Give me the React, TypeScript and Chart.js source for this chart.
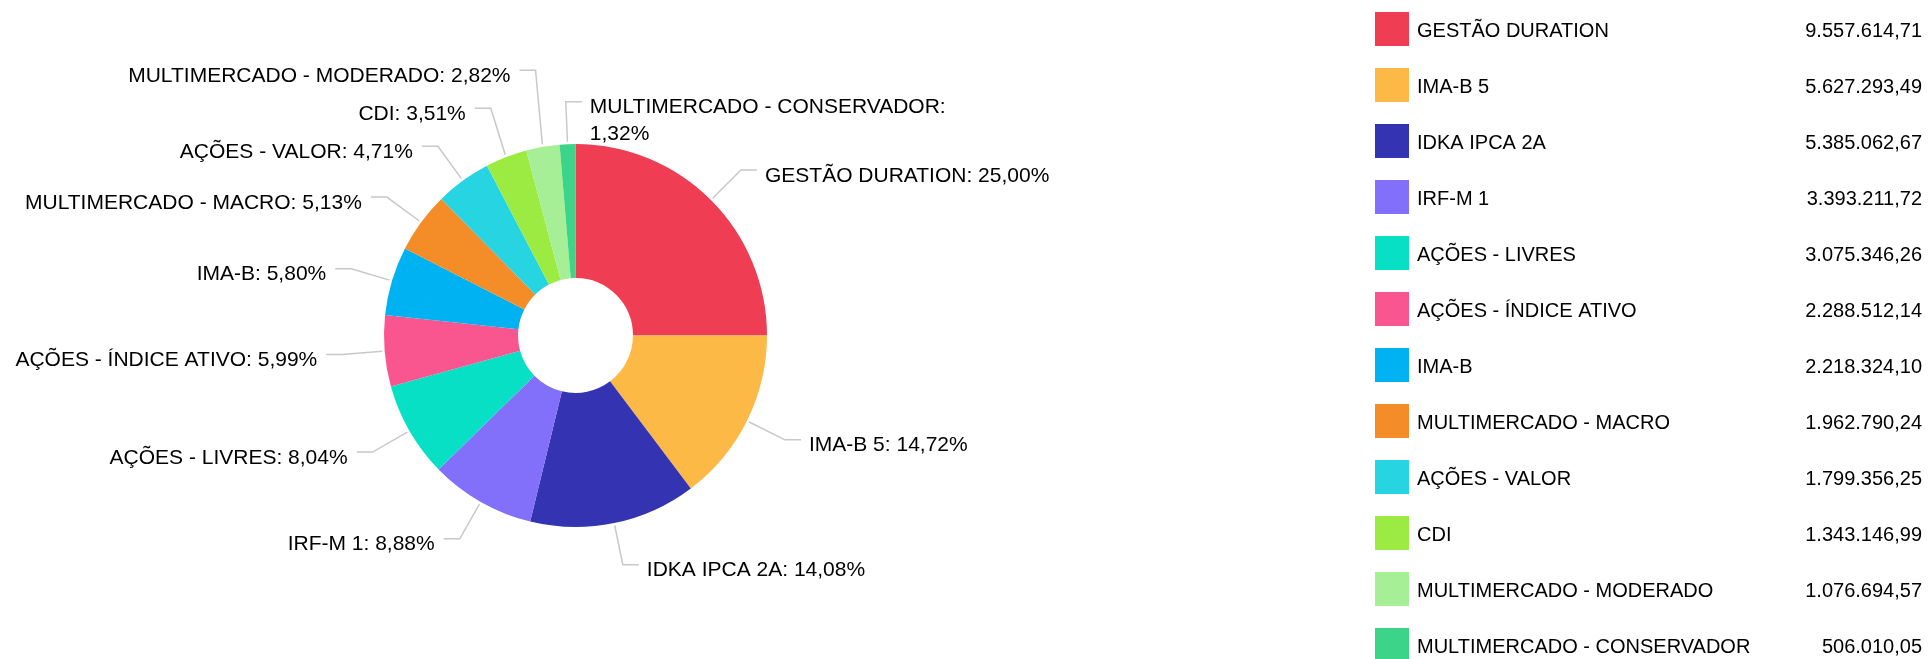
import React, { useEffect, useRef } from "react";
import { Chart, registerables } from "chart.js";

Chart.register(...registerables);

const categories: string[] = [
  "GESTÃO DURATION",
  "IMA-B 5",
  "IDKA IPCA 2A",
  "IRF-M 1",
  "AÇÕES - LIVRES",
  "AÇÕES - ÍNDICE ATIVO",
  "IMA-B",
  "MULTIMERCADO - MACRO",
  "AÇÕES - VALOR",
  "CDI",
  "MULTIMERCADO - MODERADO",
  "MULTIMERCADO - CONSERVADOR",
];

const values: number[] = [
  9557614.71, 5627293.49, 5385062.67, 3393211.72, 3075346.26, 2288512.14,
  2218324.1, 1962790.24, 1799356.25, 1343146.99, 1076694.57, 506010.05,
];

const colors: string[] = [
  "#EF3E54",
  "#FDB945",
  "#3434B3",
  "#826FFA",
  "#08E0C6",
  "#F9568F",
  "#00B2F2",
  "#F48C27",
  "#26D4E2",
  "#9CEB42",
  "#A6EF96",
  "#3BD489",
];

const FONT = '"Liberation Sans", Arial, sans-serif';
const LABEL_SIZE = 21;
const LEGEND_SIZE = 20;

function fmtBR(v: number, d = 2): string {
  const fixed = v.toFixed(d);
  const [intPart, dec] = fixed.split(".");
  const withDots = intPart.replace(/\B(?=(\d{3})+(?!\d))/g, ".");
  return dec ? withDots + "," + dec : withDots;
}

function wrap(ctx: CanvasRenderingContext2D, text: string, maxW: number): string[] {
  const words = text.split(" ");
  const lines: string[] = [];
  let cur = "";
  for (const w of words) {
    const test = cur ? cur + " " + w : w;
    if (cur && ctx.measureText(test).width > maxW) {
      lines.push(cur);
      cur = w;
    } else {
      cur = test;
    }
  }
  if (cur) lines.push(cur);
  return lines;
}

const labelPlugin = {
  id: "pieLabels",
  afterDatasetsDraw(chart: any) {
    const ctx: CanvasRenderingContext2D = chart.ctx;
    const meta = chart.getDatasetMeta(0);
    const data = chart.data.datasets[0].data as number[];
    const total = data.reduce((a, b) => a + b, 0);
    ctx.save();
    ctx.font = `${LABEL_SIZE}px ${FONT}`;
    const items = meta.data.map((arc: any, i: number) => {
      const p = arc.getProps(["x", "y", "startAngle", "endAngle", "outerRadius"], true);
      const mid = (p.startAngle + p.endAngle) / 2;
      const c = Math.cos(mid);
      const s = Math.sin(mid);
      const right = c > -0.05;
      const r1 = p.outerRadius + 2.5;
      const r2 = p.outerRadius + 42.5;
      const text = `${chart.data.labels[i]}: ${fmtBR((data[i] / total) * 100)}%`;
      const lines = wrap(ctx, text, 400);
      return {
        right,
        sx: p.x + c * r1,
        sy: p.y + s * r1,
        ex: p.x + c * r2,
        ey: p.y + s * r2,
        lines,
      };
    });
    const GAP = 38;
    const lefts = items.filter((o: any) => !o.right).sort((a: any, b: any) => b.ey - a.ey);
    for (let k = 1; k < lefts.length; k++) {
      lefts[k].ey = Math.min(lefts[k].ey, lefts[k - 1].ey - GAP);
    }
    const rights = items.filter((o: any) => o.right).sort((a: any, b: any) => a.ey - b.ey);
    for (let k = 1; k < rights.length; k++) {
      const prev = rights[k - 1];
      rights[k].ey = Math.max(rights[k].ey, prev.ey + GAP + (prev.lines.length - 1) * 27);
    }
    ctx.strokeStyle = "#c8c8c8";
    ctx.lineWidth = 1.5;
    ctx.fillStyle = "#000";
    ctx.textBaseline = "alphabetic";
    for (const o of items) {
      const hx = o.right ? o.ex + 16 : o.ex - 16;
      ctx.beginPath();
      ctx.moveTo(o.sx, o.sy);
      ctx.lineTo(o.ex, o.ey);
      ctx.lineTo(hx, o.ey);
      ctx.stroke();
      ctx.textAlign = o.right ? "left" : "right";
      const tx = o.right ? hx + 8 : hx - 9;
      o.lines.forEach((ln: string, j: number) => {
        ctx.fillText(ln, tx, o.ey + 11.5 + j * 27);
      });
    }
    ctx.restore();
  },
};

const legendPlugin = {
  id: "sideLegend",
  afterDraw(chart: any) {
    const ctx: CanvasRenderingContext2D = chart.ctx;
    const data = chart.data.datasets[0].data as number[];
    const bg = chart.data.datasets[0].backgroundColor as string[];
    ctx.save();
    ctx.font = `${LEGEND_SIZE}px ${FONT}`;
    ctx.textBaseline = "alphabetic";
    chart.data.labels.forEach((lab: string, i: number) => {
      const top = 12 + 56 * i;
      ctx.fillStyle = bg[i];
      ctx.fillRect(1375, top, 34, 34);
      ctx.fillStyle = "#000";
      ctx.textAlign = "left";
      ctx.fillText(lab, 1417, top + 25.3);
      ctx.textAlign = "right";
      ctx.fillText(fmtBR(data[i]), 1922, top + 25.3);
    });
    ctx.restore();
  },
};

export default function App() {
  const ref = useRef<HTMLCanvasElement | null>(null);
  useEffect(() => {
    if (!ref.current) return;
    const chart = new Chart(ref.current, {
      type: "doughnut",
      data: {
        labels: categories,
        datasets: [
          {
            data: values,
            backgroundColor: colors,
            borderWidth: 0,
          },
        ],
      },
      options: {
        responsive: false,
        animation: false,
        cutout: "30%",
        layout: { padding: { left: 384, top: 144, right: 1164, bottom: 132 } },
        plugins: {
          legend: { display: false },
          tooltip: { enabled: false },
        },
      },
      plugins: [labelPlugin, legendPlugin],
    });
    return () => chart.destroy();
  }, []);
  return (
    <div style={{ position: "fixed", left: 0, top: 0, width: 1931, height: 659, background: "#fff" }}>
      <canvas ref={ref} width={1931} height={659} style={{ display: "block", width: 1931, height: 659 }} />
    </div>
  );
}
